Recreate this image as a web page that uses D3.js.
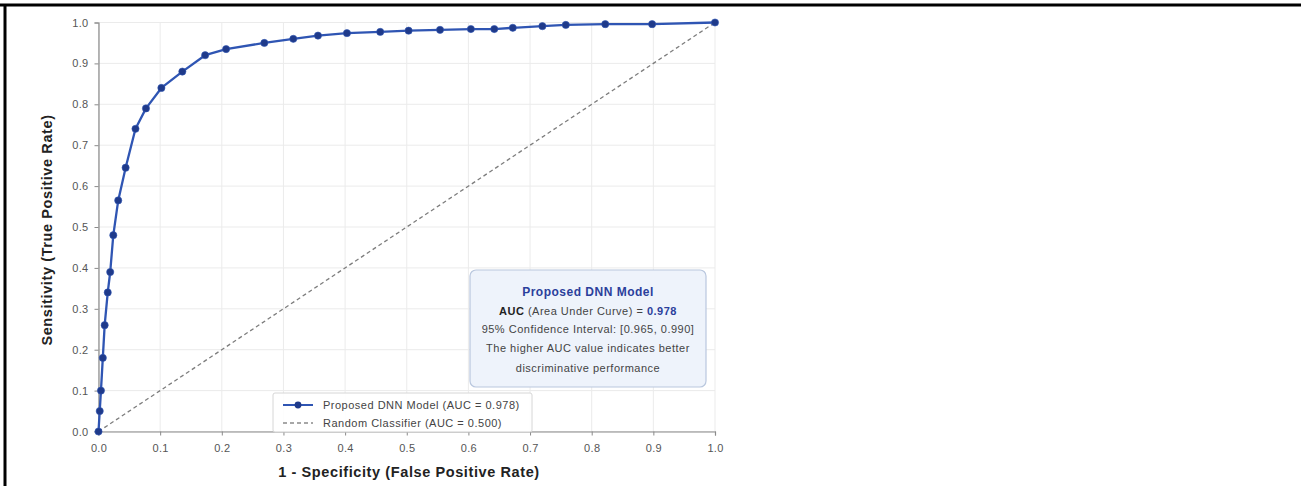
<!DOCTYPE html>
<html><head><meta charset="utf-8">
<script src="https://cdn.jsdelivr.net/npm/d3@7"></script>
<style>body{margin:0;background:#fff;} svg{display:block;font-family:"Liberation Sans",Arial,sans-serif;}</style>
</head><body>
<svg id="c" width="1301" height="486"></svg>
<script>
const fpr = [0, 0.002, 0.004, 0.007, 0.010, 0.015, 0.019, 0.024, 0.032, 0.044, 0.060, 0.077, 0.102, 0.136, 0.173, 0.207, 0.269, 0.316, 0.356, 0.403, 0.457, 0.503, 0.554, 0.604, 0.642, 0.672, 0.720, 0.758, 0.822, 0.898, 1.0];
const tpr = [0, 0.05, 0.10, 0.18, 0.26, 0.34, 0.39, 0.48, 0.565, 0.645, 0.74, 0.79, 0.84, 0.88, 0.92, 0.935, 0.95, 0.96, 0.968, 0.974, 0.977, 0.980, 0.982, 0.984, 0.984, 0.987, 0.991, 0.994, 0.996, 0.996, 1.0];
const randomLine = [[0,0],[1,1]];
const ticks = [0,0.1,0.2,0.3,0.4,0.5,0.6,0.7,0.8,0.9,1.0];
const legendLabels = ["Proposed DNN Model (AUC = 0.978)", "Random Classifier (AUC = 0.500)"];
const xTitle = "1 - Specificity (False Positive Rate)";
const yTitle = "Sensitivity (True Positive Rate)";

const svg = d3.select("#c");
// frame lines
svg.append("line").attr("x1",0).attr("x2",1301).attr("y1",5).attr("y2",5).attr("stroke","#000").attr("stroke-width",3);
svg.append("line").attr("x1",5).attr("x2",5).attr("y1",4).attr("y2",486).attr("stroke","#000").attr("stroke-width",3);

const x = d3.scaleLinear().domain([0,1]).range([98.5,715]);
const y = d3.scaleLinear().domain([0,1]).range([431.5,22.5]);

const g = svg.append("g");
// grid
g.selectAll(".vg").data(ticks).join("line").attr("x1",d=>x(d)).attr("x2",d=>x(d)).attr("y1",y(0)).attr("y2",y(1)).attr("stroke","#ebebeb").attr("stroke-width",1);
g.selectAll(".hg").data(ticks).join("line").attr("x1",x(0)).attr("x2",x(1)).attr("y1",d=>y(d)).attr("y2",d=>y(d)).attr("stroke","#ebebeb").attr("stroke-width",1);

// axes
const xa = g.append("g").attr("transform",`translate(0,${y(0)})`).call(d3.axisBottom(x).tickValues(ticks).tickFormat(d3.format(".1f")).tickSizeOuter(0).tickSize(4).tickPadding(9));
const ya = g.append("g").attr("transform",`translate(${x(0)},0)`).call(d3.axisLeft(y).tickValues(ticks).tickFormat(d3.format(".1f")).tickSizeOuter(0).tickSize(4).tickPadding(6));
[xa,ya].forEach(a=>{
  a.select(".domain").attr("stroke","#8a8a8a").attr("stroke-width",1.2);
  a.selectAll(".tick line").attr("stroke","#8a8a8a");
  a.selectAll(".tick text").attr("fill","#555").attr("font-size",11).attr("letter-spacing",0.3);
});

// diagonal
g.append("path").datum(randomLine).attr("d",d3.line().x(d=>x(d[0])).y(d=>y(d[1])))
 .attr("fill","none").attr("stroke","#7d7d7d").attr("stroke-width",1.3).attr("stroke-dasharray","4,3");

// ROC curve
const pts = fpr.map((v,i)=>[v,tpr[i]]);
g.append("path").datum(pts).attr("d",d3.line().x(d=>x(d[0])).y(d=>y(d[1])))
 .attr("fill","none").attr("stroke","#2f55b3").attr("stroke-width",2.3).attr("stroke-linejoin","round");
g.selectAll(".pt").data(pts).join("circle").attr("cx",d=>x(d[0])).attr("cy",d=>y(d[1])).attr("r",3.6)
 .attr("fill","#1f3a8a").attr("stroke","#2f55b3").attr("stroke-width",0.6);

// axis titles
svg.append("text").attr("x",409).attr("y",477).attr("text-anchor","middle").attr("font-size",14.5).attr("letter-spacing",0.6).attr("font-weight","bold").attr("fill","#222").text(xTitle);
svg.append("text").attr("transform","translate(52,230) rotate(-90)").attr("text-anchor","middle").attr("font-size",14.5).attr("letter-spacing",0.6).attr("font-weight","bold").attr("fill","#222").text(yTitle);

// legend
const lg = svg.append("g");
lg.append("rect").attr("x",273).attr("y",393).attr("width",259).attr("height",39).attr("rx",2).attr("fill","#fff").attr("fill-opacity",0.9).attr("stroke","#d6d6d6");
lg.append("line").attr("x1",283).attr("x2",313).attr("y1",405).attr("y2",405).attr("stroke","#2f55b3").attr("stroke-width",2);
lg.append("circle").attr("cx",298).attr("cy",405).attr("r",3.4).attr("fill","#1f3a8a");
lg.append("line").attr("x1",283).attr("x2",313).attr("y1",423).attr("y2",423).attr("stroke","#8a8a8a").attr("stroke-width",1.3).attr("stroke-dasharray","4,3");
lg.selectAll(".lt").data(legendLabels).join("text").attr("x",323).attr("y",(d,i)=>409+i*18).attr("font-size",11).attr("letter-spacing",0.5).attr("fill","#444").text(d=>d);

// info box
const ib = svg.append("g");
ib.append("rect").attr("x",470).attr("y",270).attr("width",236).attr("height",117).attr("rx",6).attr("fill","#eef3fb").attr("stroke","#b9c7de").attr("stroke-width",1.2);
const cx = 588;
ib.append("text").attr("x",cx).attr("y",296).attr("text-anchor","middle").attr("font-size",12).attr("letter-spacing",0.5).attr("font-weight","bold").attr("fill","#2b3f9c").text("Proposed DNN Model");
const t2 = ib.append("text").attr("x",cx).attr("y",315).attr("text-anchor","middle").attr("font-size",11).attr("letter-spacing",0.5).attr("fill","#444");
t2.append("tspan").attr("font-weight","bold").attr("fill","#222").text("AUC");
t2.append("tspan").text(" (Area Under Curve) = ");
t2.append("tspan").attr("font-weight","bold").attr("fill","#2b3f9c").text("0.978");
ib.append("text").attr("x",cx).attr("y",333).attr("text-anchor","middle").attr("font-size",11).attr("letter-spacing",0.5).attr("fill","#444").text("95% Confidence Interval: [0.965, 0.990]");
ib.append("text").attr("x",cx).attr("y",352).attr("text-anchor","middle").attr("font-size",11).attr("letter-spacing",0.5).attr("fill","#444").text("The higher AUC value indicates better");
ib.append("text").attr("x",cx).attr("y",372).attr("text-anchor","middle").attr("font-size",11).attr("letter-spacing",0.5).attr("fill","#444").text("discriminative performance");
</script>
</body></html>
